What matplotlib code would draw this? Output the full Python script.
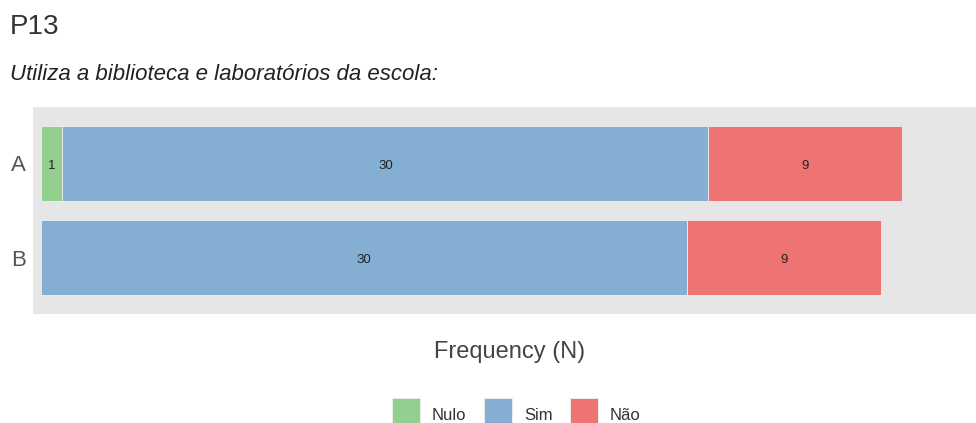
import matplotlib.pyplot as plt
from matplotlib.patches import Rectangle

plt.rcParams['font.family'] = ['Liberation Sans', 'DejaVu Sans']

# respostas por grupo
groups = ['A', 'B']
categories = ['Nulo', 'Sim', 'Não']
counts = {
    'Nulo': [1, 0],
    'Sim': [30, 30],
    'Não': [9, 9],
}
colors = {'Nulo': '#93CF8E', 'Sim': '#85AED3', 'Não': '#EE7474'}

W, H = 976, 423
fig = plt.figure(figsize=(W / 100, H / 100), dpi=100)
ax = fig.add_axes([33/W, 1 - 314/H, 1 - 33/W, 207/H])
ax.set_facecolor('#E6E6E6')

ypos = [1, 0]
left = [0, 0]
for cat in categories:
    vals = counts[cat]
    ax.barh(ypos, vals, left=left, height=0.8, color=colors[cat],
            edgecolor='#F0F0F0', linewidth=0.6)
    for y, l, v in zip(ypos, left, vals):
        if v > 0:
            ax.text(l + v / 2, y - 0.03, str(v), ha='center', va='center',
                    fontsize=9.5, color='#222222')
    left = [l + v for l, v in zip(left, vals)]

ax.set_xlim(-0.37, 43.43)
ax.set_ylim(-0.601, 1.601)
ax.set_yticks(ypos)
ax.set_yticklabels(groups, fontsize=16, color='#555555')
ax.set_xticks([])
ax.tick_params(axis='y', length=0, pad=5)
for s in ax.spines.values():
    s.set_visible(False)

fig.text(10/W, 1 - 27/H, 'P13', fontsize=20, color='#333333', va='center')
fig.text(10/W, 1 - 74/H, 'Utiliza a biblioteca e laboratórios da escola:',
         fontsize=16, style='italic', color='#222222', va='center')
fig.text(510/W, 1 - 352/H, 'Frequency (N)', fontsize=17, color='#444444',
         ha='center', va='center')

# legenda desenhada à mão, abaixo do eixo
leg_x = [392, 484, 570]
for x, cat in zip(leg_x, categories):
    fig.patches.append(Rectangle((x / W, 1 - 427 / H), 28 / W, 29 / H,
                                 transform=fig.transFigure,
                                 facecolor=colors[cat], edgecolor='#F0F0F0',
                                 linewidth=0.6))
    fig.text((x + 40) / W, 1 - 415 / H, cat, fontsize=12, color='#333333',
             va='center')

fig.savefig('out.png', dpi=100)
